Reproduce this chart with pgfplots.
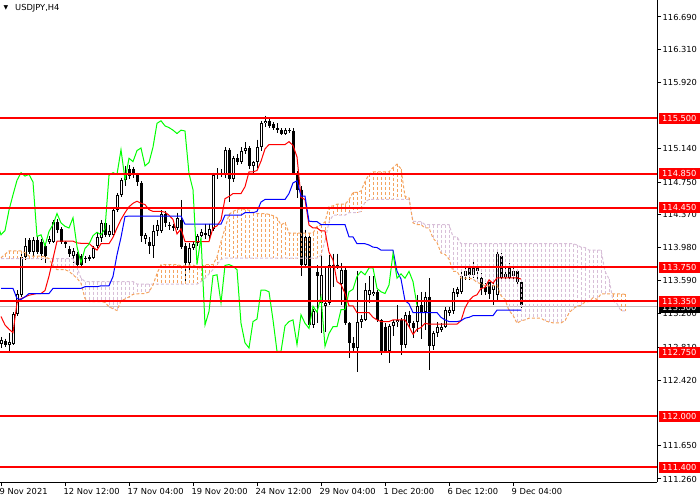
\documentclass[border=0pt]{standalone}
\usepackage{fontspec}
\setmainfont{DejaVu Sans}
\newfontfamily\tickfam{DejaVu Sans}
\newcommand\tickfont{\tickfam\fontsize{8.3}{9}\selectfont}
\usepackage{pgfplots}
\usepackage{pgfplotstable}
\pgfplotsset{compat=1.18}
\definecolor{sandyc}{RGB}{244,164,96}
\definecolor{thistlec}{RGB}{216,191,216}
\definecolor{bidgray}{RGB}{192,192,192}

\pgfplotstableread{
i O H L C
0 112.85 112.93 112.80 112.89
1 112.88 112.91 112.81 112.84
2 112.84 112.97 112.76 112.87
3 112.85 113.22 112.83 113.20
4 113.20 113.48 113.17 113.44
5 113.42 113.90 113.40 113.87
6 113.87 114.09 113.83 114.00
7 114.07 114.09 113.90 113.93
8 113.93 114.10 113.88 114.07
9 114.07 114.12 113.90 113.93
10 114.05 114.08 113.83 113.90
11 114.00 114.03 113.80 113.88
12 114.05 114.12 114.02 114.08
13 114.05 114.30 114.03 114.28
14 114.28 114.31 114.15 114.19
15 114.20 114.22 114.02 114.05
16 114.05 114.06 113.98 114.02
17 113.96 114.00 113.87 113.90
18 113.88 113.97 113.80 113.94
19 113.90 113.93 113.76 113.78
20 113.88 113.90 113.75 113.77
21 113.84 113.88 113.80 113.86
22 113.85 113.89 113.82 113.87
23 113.86 114.00 113.84 113.97
24 114.00 114.15 113.97 114.10
25 114.09 114.30 114.05 114.27
26 114.27 114.30 114.10 114.13
27 114.13 114.25 114.10 114.18
28 114.13 114.45 114.10 114.42
29 114.42 114.62 114.40 114.60
30 114.60 114.80 114.58 114.77
31 114.77 114.94 114.70 114.86
32 114.90 114.95 114.78 114.82
33 114.90 114.93 114.80 114.84
34 114.84 114.86 114.70 114.75
35 114.74 114.76 114.05 114.11
36 114.08 114.15 114.02 114.13
37 114.05 114.10 113.90 114.00
38 114.00 114.25 113.86 114.17
39 114.17 114.30 114.12 114.25
40 114.17 114.42 114.15 114.38
41 114.37 114.41 114.22 114.27
42 114.25 114.28 114.19 114.23
43 114.23 114.26 114.18 114.21
44 114.21 114.39 114.19 114.33
45 114.30 114.54 113.96 113.99
46 114.00 114.03 113.56 113.80
47 113.80 114.03 113.70 113.97
48 113.98 114.05 113.95 114.02
49 114.03 114.14 114.00 114.12
50 114.12 114.20 114.10 114.16
51 114.15 114.26 114.08 114.13
52 114.12 114.26 114.07 114.20
53 114.20 114.86 114.17 114.83
54 114.83 114.91 114.78 114.86
55 114.86 114.90 114.81 114.84
56 114.84 115.16 114.80 115.13
57 115.13 115.15 114.52 114.78
58 114.78 115.06 114.75 115.03
59 115.03 115.08 114.95 114.99
60 114.99 115.16 114.96 115.12
61 115.12 115.22 115.08 115.15
62 115.15 115.17 114.90 114.94
63 114.94 115.00 114.85 114.98
64 114.98 115.25 114.92 115.16
65 115.16 115.47 115.12 115.44
66 115.44 115.53 115.40 115.47
67 115.47 115.50 115.38 115.41
68 115.43 115.45 115.36 115.39
69 115.38 115.44 115.33 115.36
70 115.36 115.38 115.30 115.32
71 115.32 115.38 115.30 115.36
72 115.36 115.38 115.33 115.35
73 115.35 115.38 114.83 114.85
74 114.85 114.88 114.56 114.66
75 114.66 114.70 113.64 113.78
76 113.78 114.19 113.75 114.10
77 114.10 114.12 113.05 113.07
78 113.07 113.26 113.04 113.23
79 113.69 113.77 113.09 113.65
80 113.33 113.89 112.97 113.66
81 113.29 113.76 112.99 113.33
82 113.33 113.89 113.31 113.77
83 113.76 113.91 113.52 113.78
84 113.78 113.91 113.73 113.76
85 113.55 113.80 113.30 113.72
86 113.72 113.74 113.07 113.09
87 113.09 113.10 112.68 112.86
88 112.86 112.93 112.76 112.80
89 112.80 113.70 112.52 113.11
90 113.10 113.19 113.03 113.14
91 113.13 113.56 113.12 113.48
92 113.42 113.64 113.33 113.48
93 113.43 113.64 113.41 113.46
94 113.46 113.48 113.11 113.13
95 113.13 113.14 112.72 112.76
96 113.05 113.09 112.74 112.76
97 112.76 113.08 112.62 113.06
98 113.06 113.13 112.94 113.11
99 113.10 113.30 113.05 113.13
100 113.13 113.15 112.72 112.84
101 112.84 113.22 112.80 113.19
102 113.19 113.24 113.04 113.09
103 113.09 113.12 112.92 113.03
104 113.11 113.42 112.99 113.29
105 113.30 113.46 112.90 113.22
106 113.22 113.46 113.01 113.40
107 113.40 113.62 112.54 112.82
108 112.82 113.00 112.78 112.97
109 112.97 113.10 112.93 113.05
110 113.01 113.09 112.99 113.05
111 113.05 113.28 113.03 113.25
112 113.21 113.28 113.18 113.25
113 113.23 113.50 113.20 113.46
114 113.44 113.52 113.40 113.49
115 113.46 113.70 113.44 113.64
116 113.64 113.76 113.60 113.70
117 113.74 113.78 113.60 113.66
118 113.66 113.82 113.62 113.74
119 113.70 113.78 113.58 113.74
120 113.62 113.68 113.42 113.50
121 113.52 113.56 113.42 113.46
122 113.58 113.60 113.38 113.44
123 113.48 113.58 113.30 113.54
124 113.42 113.95 113.36 113.91
125 113.88 113.92 113.58 113.62
126 113.63 113.74 113.60 113.67
127 113.76 113.80 113.60 113.62
128 113.64 113.78 113.60 113.70
129 113.70 113.72 113.54 113.58
130 113.58 113.60 113.27 113.30
}\candles

\pgfplotstableread{
i T K
0 113.17 113.50
1 113.07 113.50
2 113.02 113.50
3 112.98 113.50
4 113.33 113.38
5 113.38 113.37
6 113.40 113.40
7 113.42 113.44
8 113.43 113.44
9 113.44 113.44
10 113.44 113.44
11 113.475 113.44
12 113.645 113.44
13 113.85 113.50
14 114.055 113.50
15 114.055 113.50
16 114.055 113.50
17 114.055 113.50
18 114.055 113.50
19 114.035 113.50
20 114.03 113.50
21 114.03 113.52
22 114.03 113.52
23 113.985 113.52
24 113.95 113.52
25 114.025 113.53
26 114.025 113.53
27 114.025 113.53
28 114.10 113.64
29 114.21 113.895
30 114.31 114.10
31 114.39 114.345
32 114.46 114.35
33 114.50 114.35
34 114.525 114.35
35 114.50 114.35
36 114.485 114.35
37 114.425 114.35
38 114.405 114.35
39 114.405 114.35
40 114.405 114.35
41 114.395 114.35
42 114.36 114.35
43 114.31 114.35
44 114.14 114.35
45 114.20 114.35
46 114.05 114.255
47 114.05 114.255
48 114.05 114.255
49 114.05 114.255
50 114.05 114.255
51 114.05 114.255
52 114.05 114.255
53 114.21 114.255
54 114.235 114.255
55 114.305 114.255
56 114.555 114.36
57 114.58 114.36
58 114.615 114.36
59 114.615 114.36
60 114.615 114.36
61 114.695 114.39
62 114.87 114.39
63 114.87 114.39
64 114.885 114.405
65 114.995 114.515
66 115.14 114.545
67 115.19 114.545
68 115.19 114.545
69 115.19 114.545
70 115.19 114.545
71 115.19 114.545
72 115.225 114.615
73 115.18 114.74
74 115.045 114.765
75 114.57 114.585
76 114.545 114.585
77 114.245 114.29
78 114.21 114.285
79 114.21 114.285
80 114.175 114.25
81 114.175 114.25
82 113.925 114.25
83 113.835 114.25
84 113.58 114.25
85 113.545 114.25
86 113.44 114.25
87 113.295 114.105
88 113.295 114.105
89 113.215 114.025
90 113.215 114.025
91 113.215 114.025
92 113.215 114.01
93 113.16 113.985
94 113.13 113.98
95 113.11 113.95
96 113.11 113.95
97 113.11 113.95
98 113.13 113.95
99 113.13 113.70
100 113.13 113.61
101 113.13 113.355
102 113.05 113.32
103 112.96 113.215
104 113.02 113.215
105 113.04 113.215
106 113.09 113.215
107 113.08 113.215
108 113.08 113.215
109 113.08 113.215
110 113.08 113.16
111 113.08 113.13
112 113.08 113.11
113 113.08 113.11
114 113.08 113.11
115 113.12 113.12
116 113.27 113.15
117 113.355 113.16
118 113.405 113.18
119 113.425 113.18
120 113.50 113.18
121 113.51 113.18
122 113.60 113.18
123 113.56 113.18
124 113.625 113.245
125 113.625 113.245
126 113.625 113.245
127 113.625 113.245
128 113.625 113.245
129 113.625 113.245
130 113.61 113.245
}\ichi

\pgfplotstableread{
p A B
0 113.86 113.85
1 113.90 113.85
2 113.94 113.85
3 113.94 113.85
4 113.94 113.85
5 113.94 113.85
6 113.92 113.85
7 113.88 113.85
8 113.88 113.85
9 113.88 113.85
10 113.88 113.85
11 113.87 113.85
12 113.85 113.85
13 113.76 113.85
14 113.72 113.85
15 113.72 113.85
16 113.72 113.85
17 113.70 113.85
18 113.66 113.85
19 113.62 113.75
20 113.56 113.62
21 113.38 113.58
22 113.345 113.58
23 113.345 113.58
24 113.345 113.58
25 113.345 113.58
26 113.335 113.58
27 113.285 113.58
28 113.26 113.58
29 113.24 113.58
30 113.355 113.58
31 113.375 113.58
32 113.40 113.58
33 113.43 113.58
34 113.435 113.55
35 113.44 113.55
36 113.44 113.55
37 113.458 113.55
38 113.54 113.55
39 113.675 113.55
40 113.778 113.55
41 113.778 113.55
42 113.778 113.55
43 113.778 113.55
44 113.778 113.55
45 113.768 113.55
46 113.765 113.55
47 113.775 113.55
48 113.775 113.55
49 113.75 113.55
50 113.735 113.58
51 113.778 113.62
52 113.778 113.67
53 113.778 113.72
54 113.87 113.78
55 114.05 113.84
56 114.205 113.855
57 114.37 113.855
58 114.405 113.855
59 114.425 113.855
60 114.44 113.855
61 114.425 113.855
62 114.42 113.855
63 114.39 113.855
64 114.38 113.855
65 114.38 113.855
66 114.38 113.855
67 114.37 113.855
68 114.355 113.855
69 114.33 113.855
70 114.245 113.855
71 114.275 113.855
72 114.15 113.855
73 114.15 113.855
74 114.15 113.855
75 114.15 113.855
76 114.15 113.855
77 114.15 113.855
78 114.15 113.855
79 114.23 113.855
80 114.245 113.89
81 114.28 114.06
82 114.46 114.28
83 114.47 114.36
84 114.49 114.36
85 114.49 114.36
86 114.49 114.36
87 114.54 114.39
88 114.63 114.39
89 114.63 114.39
90 114.645 114.405
91 114.755 114.515
92 114.84 114.545
93 114.87 114.545
94 114.87 114.545
95 114.87 114.545
96 114.87 114.545
97 114.87 114.545
98 114.92 114.545
99 114.96 114.545
100 114.905 114.545
101 114.58 114.545
102 114.565 114.545
103 114.27 114.29
104 114.25 114.285
105 114.25 114.285
106 114.21 114.25
107 114.21 114.25
108 114.09 114.25
109 114.04 114.25
110 113.915 114.25
111 113.90 114.25
112 113.845 114.25
113 113.70 114.105
114 113.70 114.105
115 113.62 114.025
116 113.62 114.025
117 113.62 114.025
118 113.61 114.025
119 113.57 114.025
120 113.555 114.025
121 113.53 114.025
122 113.53 114.025
123 113.53 114.025
124 113.54 114.025
125 113.415 114.025
126 113.37 114.025
127 113.24 114.025
128 113.185 114.025
129 113.09 114.025
130 113.12 114.025
131 113.13 114.025
132 113.15 114.025
133 113.15 114.025
134 113.15 114.025
135 113.15 114.025
136 113.12 114.025
137 113.105 114.025
138 113.095 114.025
139 113.095 114.025
140 113.095 114.025
141 113.12 114.025
142 113.21 114.025
143 113.26 114.025
144 113.29 114.01
145 113.30 113.985
146 113.34 113.98
147 113.345 113.95
148 113.39 113.95
149 113.37 113.95
150 113.435 113.95
151 113.435 113.70
152 113.435 113.61
153 113.435 113.355
154 113.435 113.32
155 113.435 113.235
156 113.43 113.235
}\cloud

\pgfplotsset{
  ebar/.style={color=#1, draw=none, mark=none, forget plot,
    error bars/.cd, y dir=minus, y explicit, error mark=none}
}

\begin{document}
\begin{tikzpicture}
\path[use as bounding box] (0pt,-18pt) rectangle (700pt,482pt);
\begin{axis}[
  scale only axis, width=657pt, height=482pt,
  xmin=-0.25, xmax=164, ymin=111.2245, ymax=116.8898,
  axis x line*=bottom, axis y line*=right,
  axis line style={line width=1pt, black},
  tick align=outside, major tick length=4pt,
  tick style={line width=1pt, black},
  xtick={0,16,32,48,64,80,96,112,128},
  xticklabels={9 Nov 2021, 12 Nov 12:00, 17 Nov 04:00, 19 Nov 20:00, 24 Nov 12:00, 29 Nov 04:00, 1 Dec 20:00, 6 Dec 12:00, 9 Dec 04:00},
  xticklabel style={anchor=north west, xshift=-1.5pt, inner sep=0pt, yshift=-2pt},
  ytick={111.26,111.65,112.42,112.81,113.20,113.59,113.98,114.37,114.75,115.14,115.92,116.31,116.69},
  yticklabels={111.260,111.650,112.420,112.810,113.200,113.590,113.980,114.370,114.750,115.140,115.920,116.310,116.690},
  yticklabel style={anchor=west, inner sep=0pt, xshift=1.5pt},
  tick label style={font=\tickfont},
  clip mode=individual,
]
% bid line
\addplot[bidgray, line width=1pt, mark=none, forget plot] coordinates {(-0.25,113.285) (164,113.285)};
% wicks (x shifted half a pixel so 1pt lines sit on whole pixels)
\addplot[ebar=black, error bar style={black, line width=1pt}]
  table[x expr=\thisrow{i}+0.125, y=H, y error expr=\thisrow{H}-\thisrow{L}] {\candles};
% bodies
\addplot[ebar=black, error bar style={black, line width=3pt}]
  table[x expr=\thisrow{i}+0.125, y expr={max(\thisrow{O},\thisrow{C})}, y error expr={max(abs(\thisrow{O}-\thisrow{C}),0.012)}] {\candles};
% bullish interiors (white, drawn as vertical vectors)
\addplot[white, line width=1pt, mark=none, forget plot,
  quiver={u=0, v={-max(\thisrow{C}-\thisrow{O}-0.0236,0)}}]
  table[x expr=\thisrow{i}+0.125, y expr={\thisrow{C}-0.0118}] {\candles};
% cloud hatching (purple where B above A, orange where A above B), vertical vectors
\addplot[thistlec, line width=1pt, mark=none, forget plot, dash pattern=on 3pt off 2pt,
  quiver={u=0, v={min(\thisrow{A}-\thisrow{B},0)}}]
  table[x expr=\thisrow{p}+0.125, y=B] {\cloud};
\addplot[sandyc, line width=1pt, mark=none, forget plot, dash pattern=on 3pt off 2pt,
  quiver={u=0, v={min(\thisrow{B}-\thisrow{A},0)}}]
  table[x expr=\thisrow{p}+0.125, y=A] {\cloud};
\addplot[thistlec, line width=1pt, mark=none, dash pattern=on 3pt off 2pt, forget plot] table[x=p, y=B] {\cloud};
\addplot[sandyc, line width=1pt, mark=none, dash pattern=on 3pt off 2pt, forget plot] table[x=p, y=A] {\cloud};
% Tenkan, Kijun, Chikou
\addplot[red, line width=1pt, mark=none, forget plot] table[x=i, y=T] {\ichi};
\addplot[blue, line width=1pt, mark=none, forget plot] table[x=i, y=K] {\ichi};
\addplot[green, line width=1pt, mark=none, forget plot] table[x expr=\thisrow{i}-26, y=C] {\candles};
% horizontal levels
\foreach \lv in {115.5,114.85,114.45,113.75,113.35,112.75,112.0,111.4}{
  \addplot[red, line width=2pt, mark=none, forget plot] coordinates {(-0.25,\lv) (164,\lv)};
}
% price labels
\tikzset{lbl/.style={anchor=west, xshift=2pt, text=white, inner xsep=3pt, inner ysep=0pt,
  minimum height=11pt, text width=40pt, align=left, font=\tickfont}}
\node[lbl, fill=black] at (axis cs:164,113.275) {113.300};
\node[lbl, fill=red] at (axis cs:164,115.5) {115.500};
\node[lbl, fill=red] at (axis cs:164,114.85) {114.850};
\node[lbl, fill=red] at (axis cs:164,114.45) {114.450};
\node[lbl, fill=red] at (axis cs:164,113.75) {113.750};
\node[lbl, fill=red] at (axis cs:164,113.35) {113.350};
\node[lbl, fill=red] at (axis cs:164,112.75) {112.750};
\node[lbl, fill=red] at (axis cs:164,112.0) {112.000};
\node[lbl, fill=red] at (axis cs:164,111.4) {111.400};
\end{axis}
\node[anchor=center, inner sep=0pt, font=\tickfam\fontsize{6}{6}\selectfont] at (6pt,474pt) {▼};
\node[anchor=west, inner sep=0pt, font=\tickfont] at (15pt,474pt) {USDJPY,H4};
\end{tikzpicture}
\end{document}
